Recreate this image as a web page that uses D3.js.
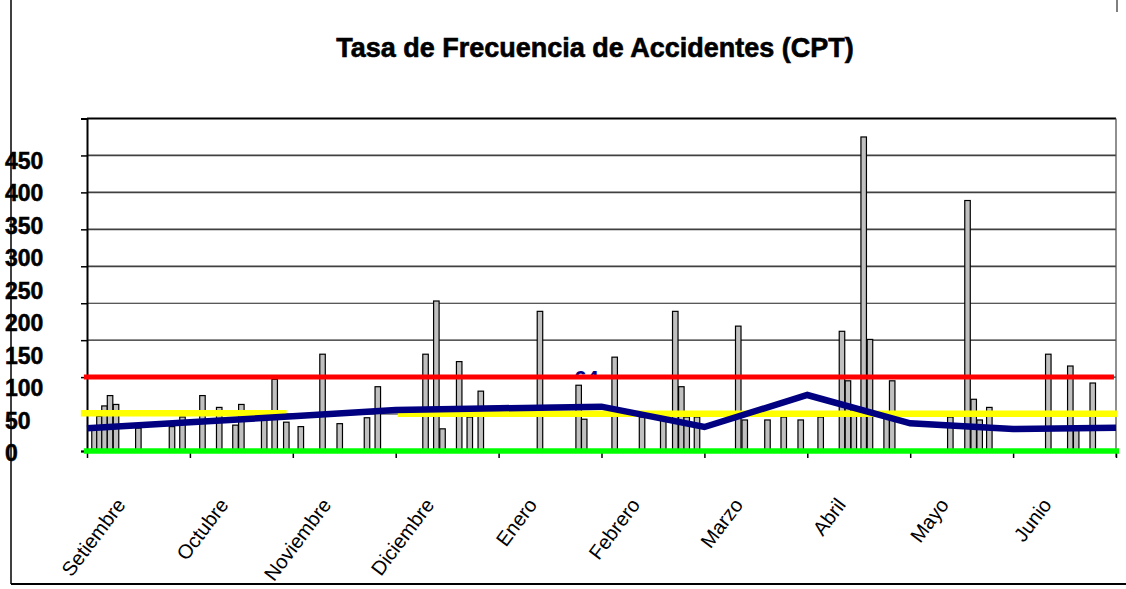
<!DOCTYPE html>
<html><head><meta charset="utf-8">
<script src="https://cdn.jsdelivr.net/npm/d3@7/dist/d3.min.js"></script>
<style>html,body{margin:0;padding:0;background:#fff;}svg{display:block;}</style>
</head><body>
<svg id="chart" width="1126" height="589"></svg>
<script>
// ---------- data ----------
const months = ["Setiembre","Octubre","Noviembre","Diciembre","Enero","Febrero","Marzo","Abril","Mayo","Junio"];
const yTickValues = [0,50,100,150,200,250,300,350,400,450];
const yTickLabels = ["0","50","100","150","200","250","300","350","400","450"];
// bar positions measured in months from the start of Setiembre
const barPositions = [0.073,0.121,0.170,0.224,0.282,0.499,0.826,0.928,
  1.122,1.285,1.443,1.500,1.722,1.824,1.937,
  2.078,2.289,2.456,2.721,2.826,
  3.290,3.395,3.455,3.617,3.720,3.827,
  4.402,4.778,4.832,
  5.128,5.394,5.600,5.717,5.776,5.828,5.928,
  6.329,6.392,6.613,6.771,6.936,
  7.130,7.337,7.395,7.452,7.548,7.609,7.771,7.825,
  8.390,8.557,8.617,8.675,8.769,
  9.342,9.556,9.613,9.774];
const barValues = [28,47,61,75,63,31,33,46,
  75,59,35,63,44,97,39,
  33,131,37,45,87,
  131,203,30,121,46,81,
  189,89,43,
  127,46,46,189,87,46,46,
  169,42,42,46,42,
  46,162,95,60,425,151,50,95,
  46,339,70,42,59,
  131,115,30,92];
// cumulative rate at each month boundary
const trendPositions = [0,1,2,3,4,5,6,7,8,9,10];
const trendValues = [30.7,38.8,47.0,55.5,57.8,60.0,32.5,75.8,37.5,29.8,31.5];
const trendLabel = "64";
// reference lines: [value, from month, to month]
const redLine = [100, -0.03, 9.98];
const greenLine = [0, -0.03, 10.03];
const yellowValues = [51, 50.3];
const yellowFrom = [-0.06, 3.02];
const yellowTo = [1.94, 10.01];

// ---------- drawing ----------
const svg = d3.select("#chart");
const x = d3.scaleLinear().domain([0, 10]).range([87, 1116]);
const y = d3.scaleLinear().domain([0, 450]).range([451, 118.5]);
const yLabel = d3.scaleLinear().domain([0, 450]).range([461, 169]);
const FONT = "Liberation Sans, Arial, sans-serif";

svg.append("rect").attr("width",1126).attr("height",589).attr("fill","#fff");

// title
svg.append("text").attr("x", 595).attr("y", 57).attr("text-anchor","middle")
  .attr("font-family",FONT).attr("font-weight","bold")
  .attr("font-size", 27).attr("fill","#000").attr("stroke","#000").attr("stroke-width",0.6)
  .text("Tasa de Frecuencia de Accidentes (CPT)");

// gridlines
const gridVals = yTickValues.filter(v => v > 0 && v < 450);
svg.append("g").selectAll("line").data(gridVals).join("line")
  .attr("x1", x(0)).attr("x2", x(10))
  .attr("y1", d => y(d)).attr("y2", d => y(d))
  .attr("stroke", d => d >= 250 ? "#404040" : "#222")
  .attr("stroke-width", d => d >= 250 ? 1.7 : 1.1);
// top border
svg.append("line").attr("x1", x(0)).attr("x2", x(10)).attr("y1", y(450)).attr("y2", y(450))
  .attr("stroke","#000").attr("stroke-width",2);
// right border
svg.append("line").attr("x1", x(10)).attr("x2", x(10)).attr("y1", y(450)).attr("y2", y(0)+6)
  .attr("stroke","#555").attr("stroke-width",1.3);

// left axis (ticks only)
const ax = svg.append("g").attr("transform", `translate(${x(0)},0)`)
  .call(d3.axisLeft(y).tickValues(yTickValues).tickSize(6).tickFormat(""));
ax.select(".domain").attr("stroke","#000").attr("stroke-width",2);
ax.selectAll(".tick line").attr("stroke","#000").attr("stroke-width",1.5);

// bottom ticks
const bx = svg.append("g").attr("transform", `translate(0,${y(0)})`)
  .call(d3.axisBottom(x).tickValues(d3.range(0, 11)).tickSize(7).tickFormat(""));
bx.select(".domain").remove();
bx.selectAll(".tick line").attr("stroke","#000").attr("stroke-width",1.5);

// bars
const bw = 5.5;
svg.append("g").selectAll("rect").data(barPositions.map((p,i)=>({p, v: barValues[i]}))).join("rect")
  .attr("x", d => x(d.p) - bw/2).attr("width", bw)
  .attr("y", d => y(d.v)).attr("height", d => y(0) - y(d.v))
  .attr("fill","#c0c0c0").attr("stroke","#000").attr("stroke-width",1.2);

// yellow target lines
svg.append("g").selectAll("line").data(yellowValues.map((v,i)=>({v, a: yellowFrom[i], b: yellowTo[i]}))).join("line")
  .attr("x1", d => x(d.a)).attr("x2", d => x(d.b))
  .attr("y1", d => y(d.v)).attr("y2", d => y(d.v))
  .attr("stroke","#ffff00").attr("stroke-width",6.5);

// partially hidden data label
const clip = svg.append("clipPath").attr("id","lblclip");
clip.append("rect").attr("x", 0).attr("y", y(redLine[0]) - 12).attr("width", 1126).attr("height", 12);
svg.append("text").attr("clip-path","url(#lblclip)")
  .attr("x", x(trendPositions[5]) - 15).attr("y", y(redLine[0]) + 9)
  .attr("text-anchor","middle").attr("font-family",FONT)
  .attr("font-weight","bold").attr("font-size",22).attr("fill","#000080").text(trendLabel);

// green zero line
svg.append("line").attr("x1", x(greenLine[1])).attr("x2", x(greenLine[2]))
  .attr("y1", y(greenLine[0])).attr("y2", y(greenLine[0]))
  .attr("stroke","#00ff00").attr("stroke-width",5.5);
// red limit line
svg.append("line").attr("x1", x(redLine[1])).attr("x2", x(redLine[2]))
  .attr("y1", y(redLine[0])).attr("y2", y(redLine[0]))
  .attr("stroke","#ff0000").attr("stroke-width",5);

// trend line
const line = d3.line().x(d => x(d[0])).y(d => y(d[1]));
svg.append("path").datum(trendPositions.map((p,i)=>[p, trendValues[i]]))
  .attr("d", line).attr("fill","none").attr("stroke","#000080")
  .attr("stroke-width",6.5).attr("stroke-linejoin","miter");

// y labels (offset from the grid, as in the original)
svg.append("g").selectAll("text").data(yTickValues).join("text")
  .attr("x", 5).attr("y", d => yLabel(d))
  .attr("font-family",FONT).attr("font-weight","bold")
  .attr("font-size",23).attr("fill","#000").attr("stroke","#000").attr("stroke-width",0.5)
  .text((d,i) => yTickLabels[i]);

// x labels
svg.append("g").selectAll("text").data(months).join("text")
  .attr("transform", (d,i) => `translate(${x(i+0.5)-12},505) rotate(-53)`)
  .attr("text-anchor","end")
  .attr("font-family",FONT)
  .attr("font-size",20).attr("fill","#000")
  .text(d => d);

// outer frame
svg.append("line").attr("x1",11).attr("x2",11).attr("y1",0).attr("y2",584).attr("stroke","#000").attr("stroke-width",1.5);
svg.append("line").attr("x1",11).attr("x2",1126).attr("y1",584).attr("y2",584).attr("stroke","#000").attr("stroke-width",2);
svg.append("line").attr("x1",1117).attr("x2",1117).attr("y1",0).attr("y2",12).attr("stroke","#000").attr("stroke-width",1);
</script>
</body></html>
